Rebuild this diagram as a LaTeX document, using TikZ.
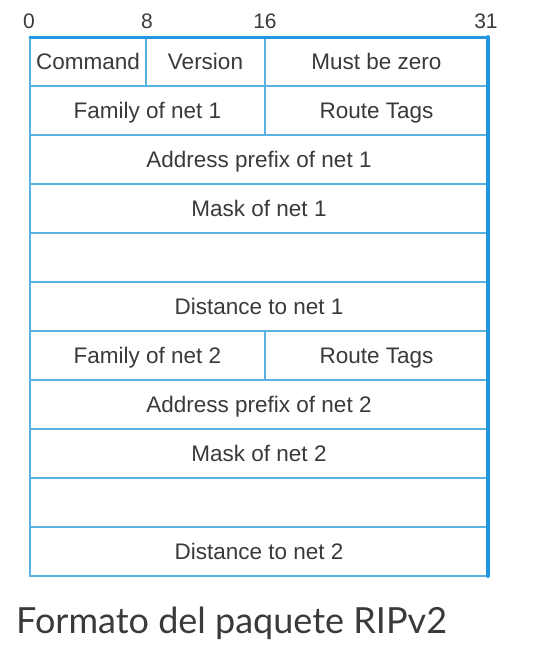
\documentclass[tikz,border=0pt]{standalone}
\usepackage{fontspec}
\setmainfont{Liberation Sans}
\newfontfamily\captionfont{Lato}
\usepackage{tikz}

\definecolor{fieldline}{HTML}{5AB2E3}
\definecolor{frameline}{HTML}{2396DF}
\definecolor{fieldtext}{HTML}{3A3A3A}

\begin{document}
\begin{tikzpicture}[x=1pt, y=-1pt]
    \tikzstyle{field}=[
        draw = fieldline,
        line width = 1.5pt,
        fill = white,
        inner sep = 0pt,
        outer sep = 0pt,
        minimum height = 49pt,
        text height = 16pt,
        text depth = 0pt,
        text = fieldtext,
        font = \fontsize{22.5}{22.5}\selectfont,
        rectangle
    ]
    \tikzstyle{bit}=[
        text = fieldtext,
        text height = 15pt,
        text depth = 0pt,
        font = \fontsize{21}{21}\selectfont,
        inner sep = 0pt
    ]

    \useasboundingbox (0, 0) rectangle (535, 657);

	\node[bit] (b0)  at (29, 21)  {0};
	\node[bit] (b8)  at (147, 21) {8};
	\node[bit] (b16) at (265, 21) {16};
	\node[bit] (b31) at (486, 21) {31};

	\node[field, minimum width = 116pt] (cmd)   at (88, 61.5)    {Command};
	\node[field, minimum width = 119pt] (ver)   at (205.5, 61.5) {Version};
	\node[field, minimum width = 223pt] (zero)  at (376.5, 61.5) {Must be zero};
	\node[field, minimum width = 235pt] (fam1)  at (147.5, 110.5) {Family of net 1};
	\node[field, minimum width = 223pt] (tag1)  at (376.5, 110.5) {Route Tags};
	\node[field, minimum width = 458pt] (addr1) at (259, 159.5)  {Address prefix of net 1};
	\node[field, minimum width = 458pt] (mask1) at (259, 208.5)  {Mask of net 1};
	\node[field, minimum width = 458pt] (hop1)  at (259, 257.5)  {};
	\node[field, minimum width = 458pt] (dist1) at (259, 306.5)  {Distance to net 1};
	\node[field, minimum width = 235pt] (fam2)  at (147.5, 355.5) {Family of net 2};
	\node[field, minimum width = 223pt] (tag2)  at (376.5, 355.5) {Route Tags};
	\node[field, minimum width = 458pt] (addr2) at (259, 404.5)  {Address prefix of net 2};
	\node[field, minimum width = 458pt] (mask2) at (259, 453.5)  {Mask of net 2};
	\node[field, minimum width = 458pt] (hop2)  at (259, 502.5)  {};
	\node[field, minimum width = 458pt] (dist2) at (259, 551.5)  {Distance to net 2};

	\draw[frameline, line width = 3pt, line cap = round, line join = round]
	    (cmd.north west) -- (zero.north east);
	\draw[frameline, line width = 4pt, line cap = round, line join = round]
	    (zero.north east) -- (dist2.south east);

	\node[anchor = base west, text = fieldtext, inner sep = 0pt,
	      font = \captionfont\fontsize{36}{36}\selectfont] (title) at (16, 633)
	    {Formato del paquete RIPv2};
\end{tikzpicture}
\end{document}
